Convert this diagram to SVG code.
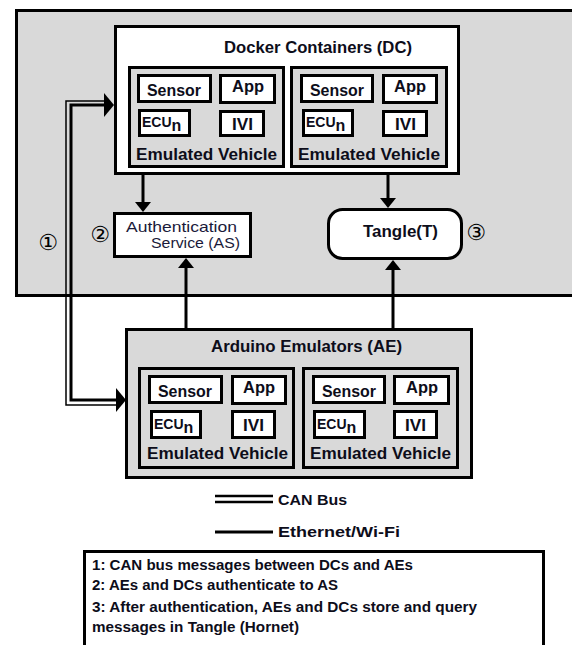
<svg xmlns="http://www.w3.org/2000/svg" width="572" height="645" viewBox="0 0 572 645">
<style>
.box{stroke:#000;stroke-width:3;fill:#fff}
.gbox{stroke:#000;stroke-width:3;fill:#d9d9d9}
.t{font-family:"Liberation Sans",Arial,sans-serif;font-weight:bold;fill:#0d0d1a}
.lbl{font-size:16px}
.ecu{font-size:14px}
.sub{font-size:16px}
.ev{font-size:17px}
.ln{stroke:#000;stroke-width:3;fill:none}
.num{font-family:"DejaVu Sans",sans-serif;font-size:22px;fill:#000;text-anchor:middle}
</style>
<defs>
<marker id="ah" viewBox="0 -8 10 16" refX="4" refY="0" markerWidth="10" markerHeight="16" markerUnits="userSpaceOnUse" orient="auto"><path d="M0,-8 L10,0 L0,8 z" fill="#000"/></marker>
<marker id="bh" viewBox="0 -12 10 24" refX="4" refY="0" markerWidth="10" markerHeight="24" markerUnits="userSpaceOnUse" orient="auto-start-reverse"><path d="M0,-12 L10,0 L0,12 z" fill="#000"/></marker>
</defs>
<rect width="572" height="645" fill="#fff"/>
<g id="outer"><rect class="gbox" x="16.5" y="10.5" width="570" height="285"/></g>

<g id="dc">
<rect class="box" x="115.5" y="26.5" width="343" height="147"/>
<text class="t" x="224" y="53" font-size="17" textLength="188" lengthAdjust="spacingAndGlyphs">Docker Containers (DC)</text>
<g id="dc-ev1" transform="translate(128,66)">
<rect class="gbox" x="1.5" y="1.5" width="154" height="99"/>
<rect class="box" x="10.5" y="9.5" width="72" height="26"/><text class="t lbl" x="19" y="30" textLength="54" lengthAdjust="spacingAndGlyphs">Sensor</text>
<rect class="box" x="92.5" y="9.5" width="54" height="27"/><text class="t lbl" x="104" y="26" textLength="32" lengthAdjust="spacingAndGlyphs">App</text>
<rect class="box" x="11.5" y="44.5" width="50" height="25"/><text class="t ecu" x="14" y="61">ECU<tspan class="sub" dy="4">n</tspan></text>
<rect class="box" x="92.5" y="45.5" width="43" height="24"/><text class="t lbl" x="104" y="64" textLength="21" lengthAdjust="spacingAndGlyphs">IVI</text>
<text class="t ev" x="8" y="94" textLength="141" lengthAdjust="spacingAndGlyphs">Emulated Vehicle</text>
</g>
<g id="dc-ev2" transform="translate(290,66)">
<rect class="gbox" x="1.5" y="1.5" width="155" height="99"/>
<rect class="box" x="11.5" y="9.5" width="71" height="26"/><text class="t lbl" x="20" y="30" textLength="54" lengthAdjust="spacingAndGlyphs">Sensor</text>
<rect class="box" x="93.5" y="9.5" width="53" height="27"/><text class="t lbl" x="104" y="26" textLength="32" lengthAdjust="spacingAndGlyphs">App</text>
<rect class="box" x="13.5" y="44.5" width="49" height="25"/><text class="t ecu" x="16" y="61">ECU<tspan class="sub" dy="4">n</tspan></text>
<rect class="box" x="93.5" y="45.5" width="43" height="24"/><text class="t lbl" x="105" y="64" textLength="21" lengthAdjust="spacingAndGlyphs">IVI</text>
<text class="t ev" x="8" y="94" textLength="142" lengthAdjust="spacingAndGlyphs">Emulated Vehicle</text>
</g>
</g>

<g id="as">
<rect class="box" x="114.5" y="213.5" width="136" height="43"/>
<text x="126" y="232" font-family="Liberation Sans, Arial, sans-serif" font-size="15" fill="#1a1a3a" textLength="111" lengthAdjust="spacingAndGlyphs">Authentication</text>
<text x="151" y="248" font-family="Liberation Sans, Arial, sans-serif" font-size="15" fill="#1a1a3a" textLength="89" lengthAdjust="spacingAndGlyphs">Service (AS)</text>
</g>

<g id="tangle">
<rect class="box" x="328.5" y="209.5" width="133" height="49" rx="14"/>
<text class="t" x="363" y="237" font-size="16" textLength="75" lengthAdjust="spacingAndGlyphs">Tangle(T)</text>
</g>

<g id="ae">
<rect class="gbox" x="126.5" y="329.5" width="345" height="148"/>
<text class="t" x="211" y="352" font-size="17" textLength="191" lengthAdjust="spacingAndGlyphs">Arduino Emulators (AE)</text>
<g id="ae-ev1" transform="translate(138,367)">
<rect class="gbox" x="1.5" y="1.5" width="154" height="99"/>
<rect class="box" x="11.5" y="9.5" width="72" height="26"/><text class="t lbl" x="20" y="30" textLength="54" lengthAdjust="spacingAndGlyphs">Sensor</text>
<rect class="box" x="94.5" y="9.5" width="53" height="27"/><text class="t lbl" x="105" y="26" textLength="32" lengthAdjust="spacingAndGlyphs">App</text>
<rect class="box" x="13.5" y="44.5" width="49" height="26"/><text class="t ecu" x="16" y="62">ECU<tspan class="sub" dy="4">n</tspan></text>
<rect class="box" x="94.5" y="44.5" width="42" height="26"/><text class="t lbl" x="105" y="64" textLength="21" lengthAdjust="spacingAndGlyphs">IVI</text>
<text class="t ev" x="9" y="92" textLength="141" lengthAdjust="spacingAndGlyphs">Emulated Vehicle</text>
</g>
<g id="ae-ev2" transform="translate(302,367)">
<rect class="gbox" x="1.5" y="1.5" width="154" height="99"/>
<rect class="box" x="11.5" y="9.5" width="71" height="26"/><text class="t lbl" x="20" y="30" textLength="54" lengthAdjust="spacingAndGlyphs">Sensor</text>
<rect class="box" x="92.5" y="9.5" width="54" height="27"/><text class="t lbl" x="104" y="26" textLength="32" lengthAdjust="spacingAndGlyphs">App</text>
<rect class="box" x="12.5" y="44.5" width="50" height="26"/><text class="t ecu" x="15" y="62">ECU<tspan class="sub" dy="4">n</tspan></text>
<rect class="box" x="92.5" y="44.5" width="42" height="26"/><text class="t lbl" x="103" y="64" textLength="21" lengthAdjust="spacingAndGlyphs">IVI</text>
<text class="t ev" x="8" y="92" textLength="141" lengthAdjust="spacingAndGlyphs">Emulated Vehicle</text>
</g>
</g>

<g id="connectors">
<path class="ln" d="M143 175 V206" marker-end="url(#ah)"/>
<path class="ln" d="M388 175 V202" marker-end="url(#ah)"/>
<path class="ln" d="M186 328 V264" marker-end="url(#ah)"/>
<path class="ln" d="M393 328 V266" marker-end="url(#ah)"/>
<path d="M116 405 H66 V101 H106" stroke="#000" stroke-width="1.5" fill="none"/>
<path class="ln" d="M120 400 H71 V105 H108" marker-start="url(#bh)" marker-end="url(#bh)"/>
</g>

<g id="numbers">
<text class="num" x="48" y="250">①</text>
<text class="num" x="100" y="242">②</text>
<text class="num" x="476" y="240">③</text>
</g>

<g id="legend">
<line x1="215" y1="496" x2="273" y2="496" stroke="#000" stroke-width="2.5"/>
<line x1="215" y1="502" x2="273" y2="502" stroke="#000" stroke-width="2.5"/>
<text class="t" x="278" y="505" font-size="15" textLength="69" lengthAdjust="spacingAndGlyphs">CAN Bus</text>
<line x1="215" y1="532" x2="273" y2="532" stroke="#000" stroke-width="3"/>
<text class="t" x="278" y="537" font-size="15" textLength="122" lengthAdjust="spacingAndGlyphs">Ethernet/Wi-Fi</text>
</g>

<g id="notes">
<rect class="box" x="84.5" y="551.5" width="459" height="100"/>
<text class="t" x="92" y="570" font-size="14" textLength="321" lengthAdjust="spacingAndGlyphs">1: CAN bus messages between DCs and  AEs</text>
<text class="t" x="92" y="590" font-size="14" textLength="246" lengthAdjust="spacingAndGlyphs">2: AEs and DCs authenticate to AS</text>
<text class="t" x="92" y="612" font-size="14" textLength="385" lengthAdjust="spacingAndGlyphs">3: After authentication, AEs and DCs store and query</text>
<text class="t" x="92" y="632" font-size="14" textLength="207" lengthAdjust="spacingAndGlyphs">messages in Tangle (Hornet)</text>
</g>
</svg>
